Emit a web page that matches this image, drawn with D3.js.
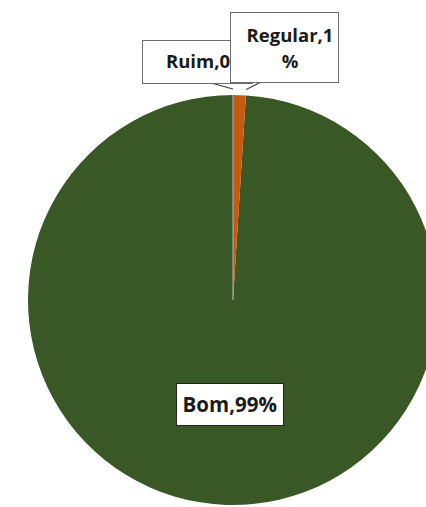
<!DOCTYPE html>
<html>
<head>
<meta charset="utf-8">
<script src="https://cdn.jsdelivr.net/npm/d3@7"></script>
<style>
  html, body { margin: 0; padding: 0; background: #ffffff; }
  svg { display: block; }
  .lbl { font-family: "Open Sans", "DejaVu Sans", sans-serif; font-weight: 700; fill: #1a1a1a; }
</style>
</head>
<body>
<svg id="chart" width="426" height="507"></svg>
<script>
// Condition of the surveyed items, in percent
const categories = ["Ruim", "Regular", "Bom"];
const values = [0, 1, 99];
const colors = ["#a5a5a5", "#c55a11", "#3a5826"];

const width = 426, height = 507;
const cx = 233, cy = 300, radius = 205;

const svg = d3.select("#chart");
const g = svg.append("g").attr("transform", `translate(${cx},${cy})`);

const data = categories.map((c, i) => ({ name: c, value: values[i], color: colors[i] }));

const pie = d3.pie().value(d => d.value).sort(null).startAngle(0).endAngle(2 * Math.PI);
const arcs = pie(data);

const arc = d3.arc().innerRadius(0).outerRadius(radius);

// slices: the big one first so the thin ones sit on top
const order = [2, 1, 0];
g.selectAll("path.slice")
  .data(order.map(i => arcs[i]))
  .join("path")
  .attr("class", "slice")
  .attr("d", arc)
  .attr("fill", d => d.data.color)
  .attr("stroke", d => d.data.value === 0 ? d.data.color : "none")
  .attr("stroke-width", 1.2);

// leader-line anchors just outside the rim
const rimPoint = (angle, r) => [Math.sin(angle) * r, -Math.cos(angle) * r];

// label boxes (in svg coordinates); the second box overlaps the first
const labels = [
  { i: 0, box: [142, 40, 110, 43], lines: ["Ruim,0%"], tx: 166, ty: [68], anchor: "start", fs: 18.5,
    from: [193, 78], angle: a => a.startAngle },
  { i: 1, box: [230, 12, 108, 70], lines: ["Regular,1", "%"], tx: 290, ty: [42, 68], anchor: "middle", fs: 18.5,
    from: [261, 82], angle: a => a.endAngle }
];

labels.forEach(l => {
  const a = arcs[l.i];
  const p = rimPoint(l.angle(a), radius + 6);
  svg.append("line")
    .attr("x1", l.from[0]).attr("y1", l.from[1])
    .attr("x2", cx + p[0]).attr("y2", cy + p[1])
    .attr("stroke", "#404040").attr("stroke-width", 1.2);
});

labels.forEach(l => {
  svg.append("rect")
    .attr("x", l.box[0] + 0.5).attr("y", l.box[1] + 0.5)
    .attr("width", l.box[2]).attr("height", l.box[3])
    .attr("fill", "#ffffff").attr("stroke", "#6b6b6b").attr("stroke-width", 1);
  const t = svg.append("text").attr("class", "lbl")
    .attr("font-size", l.fs).attr("text-anchor", l.anchor);
  l.lines.forEach((s, k) => {
    t.append("tspan").attr("x", l.tx).attr("y", l.ty[k]).text(s);
  });
});

// main slice label, centred inside the slice
const bom = arcs[2];
const mid = (bom.startAngle + bom.endAngle) / 2;
const bp = rimPoint(mid, radius * 0.51);
const bx = cx + bp[0], by = cy + bp[1];
svg.append("rect")
  .attr("x", Math.round(bx - 53.5) + 0.5).attr("y", Math.round(by - 21) + 0.5)
  .attr("width", 107).attr("height", 42)
  .attr("fill", "#ffffff").attr("stroke", "#222222").attr("stroke-width", 1);
svg.append("text").attr("class", "lbl")
  .attr("x", bx).attr("y", by + 7.5)
  .attr("text-anchor", "middle")
  .attr("font-size", 20.5)
  .text(`${categories[2]},${values[2]}%`);
</script>
</body>
</html>
